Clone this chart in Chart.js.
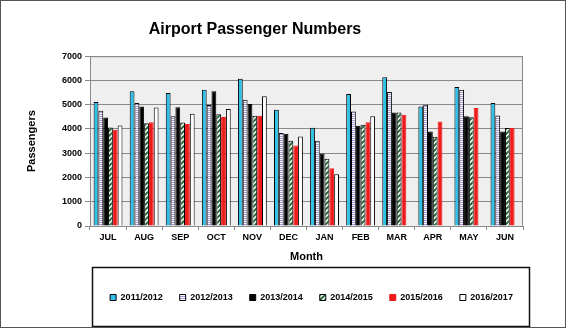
<!DOCTYPE html>
<html>
<head>
<meta charset="utf-8">
<script src="https://cdn.jsdelivr.net/npm/chart.js@4/dist/chart.umd.min.js"></script>
<style>
  html, body { margin: 0; padding: 0; background: #fff; }
  #wrap { width: 566px; height: 328px; position: relative; }
</style>
</head>
<body>
<div id="wrap"><canvas id="chart" width="566" height="328"></canvas></div>
<script>
const months = ['JUL', 'AUG', 'SEP', 'OCT', 'NOV', 'DEC', 'JAN', 'FEB', 'MAR', 'APR', 'MAY', 'JUN'];
const seasons = ['2011/2012', '2012/2013', '2013/2014', '2014/2015', '2015/2016', '2016/2017'];

const s2011 = [5110, 5550, 5480, 5620, 6075, 4790, 4050, 5440, 6130, 4930, 5730, 5070];
const s2012 = [4750, 5070, 4520, 4990, 5200, 3830, 3510, 4720, 5520, 5000, 5620, 4560];
const s2013 = [4475, 4930, 4900, 5550, 5030, 3800, 2990, 4130, 4680, 3900, 4520, 3900];
const s2014 = [4060, 4240, 4270, 4610, 4545, 3510, 2770, 4170, 4680, 3680, 4480, 4035];
const s2015 = [3965, 4280, 4210, 4490, 4540, 3320, 2380, 4280, 4590, 4310, 4860, 4035];
const s2016 = [4145, 4890, 4630, 4820, 5345, 3690, 2130, 4520, null, null, null, null];

const yTicks = [0, 1000, 2000, 3000, 4000, 5000, 6000, 7000];

const FONT = "'Liberation Sans', Arial, sans-serif";

function makePattern(kind) {
  const c = document.createElement('canvas');
  const g = c.getContext('2d');
  if (kind === 'lines') {
    c.width = 4;
    c.height = 2;
    g.fillStyle = '#ffffff';
    g.fillRect(0, 0, 4, 2);
    g.fillStyle = '#a898dc';
    g.fillRect(0, 0, 4, 1);
  } else {
    c.width = 5;
    c.height = 5;
    g.fillStyle = '#ffffff';
    g.fillRect(0, 0, 5, 5);
    g.strokeStyle = '#2b6b3c';
    g.lineWidth = 2;
    g.beginPath();
    g.moveTo(-1, 6); g.lineTo(6, -1);
    g.moveTo(-1, 1); g.lineTo(1, -1);
    g.moveTo(4, 6); g.lineTo(6, 4);
    g.stroke();
  }
  return g.createPattern(c, 'repeat');
}

const frame = {
  id: 'frame',
  afterLayout(chart) {
    // title sits left of centre, legend is centred on its box
    if (chart.titleBlock) {
      chart.titleBlock.left = 0;
      chart.titleBlock.right = 510;
    }
    if (chart.legend) {
      chart.legend.left += 50;
      chart.legend.right += 50;
    }
  },
  beforeDraw(chart) {
    const { ctx, chartArea: a } = chart;
    ctx.save();
    ctx.fillStyle = '#ffffff';
    ctx.fillRect(0, 0, chart.width, chart.height);
    ctx.fillStyle = '#efefef';
    ctx.fillRect(a.left, a.top, a.right - a.left, a.bottom - a.top);
    ctx.restore();
  },
  beforeDatasetsDraw(chart) {
    const { ctx, chartArea: a } = chart;
    ctx.save();
    ctx.strokeStyle = '#8a8a8a';
    ctx.lineWidth = 1;
    ctx.strokeRect(a.left + 0.5, a.top + 0.5, a.right - a.left - 1, a.bottom - a.top);
    ctx.restore();
  },
  afterDraw(chart) {
    const { ctx } = chart;
    ctx.save();
    ctx.strokeStyle = '#111';
    ctx.lineWidth = 1.5;
    ctx.strokeRect(92.5, 267.5, 437, 59);
    ctx.strokeStyle = '#555';
    ctx.lineWidth = 1;
    ctx.strokeRect(0.5, 0.5, chart.width - 1, chart.height - 1);
    ctx.restore();
  }
};

const styles = [
  { backgroundColor: '#2ec2ea', borderColor: '#000' },
  { backgroundColor: makePattern('lines'), borderColor: '#000' },
  { backgroundColor: '#000000', borderColor: '#000' },
  { backgroundColor: makePattern('diag'), borderColor: '#000' },
  { backgroundColor: '#ee1a1a', borderColor: '#ee1a1a' },
  { backgroundColor: '#ffffff', borderColor: '#000' }
];

const series = [s2011, s2012, s2013, s2014, s2015, s2016];

Chart.defaults.font.family = FONT;
Chart.defaults.color = '#000';

new Chart(document.getElementById('chart'), {
  type: 'bar',
  data: {
    labels: months,
    datasets: series.map((values, i) => ({
      label: seasons[i],
      data: values,
      backgroundColor: styles[i].backgroundColor,
      borderColor: styles[i].borderColor,
      borderWidth: 1,
      categoryPercentage: 0.8,
      barPercentage: 1
    }))
  },
  options: {
    responsive: false,
    animation: false,
    events: [],
    layout: { padding: { left: 0, right: 43, top: 0, bottom: 16 } },
    plugins: {
      title: {
        display: true,
        text: 'Airport Passenger Numbers',
        font: { size: 16, weight: 'bold' },
        color: '#000',
        padding: { top: 20, bottom: 17 }
      },
      legend: {
        position: 'bottom',
        labels: {
          boxWidth: 6,
          boxHeight: 6,
          padding: 17,
          font: { size: 9, weight: 'bold' },
          color: '#000'
        }
      },
      tooltip: { enabled: false }
    },
    scales: {
      x: {
        grid: {
          offset: true,
          drawOnChartArea: false,
          drawTicks: true,
          tickLength: 4,
          color: '#8a8a8a'
        },
        border: { display: true, color: '#8a8a8a' },
        ticks: { font: { size: 9, weight: 'bold' }, padding: 2, color: '#000' },
        title: {
          display: true,
          text: 'Month',
          font: { size: 11, weight: 'bold' },
          color: '#000',
          padding: { top: 0, bottom: 12 }
        },
        afterFit(scale) { scale.height = 50; }
      },
      y: {
        min: 0,
        max: 7000,
        afterBuildTicks(scale) { scale.ticks = yTicks.map((v) => ({ value: v })); },
        grid: { color: '#8a8a8a', tickLength: 5 },
        border: { display: true, color: '#8a8a8a' },
        ticks: {
          font: { size: 9, weight: 'bold' },
          padding: 3,
          color: '#000',
          callback: (value) => String(value)
        },
        title: {
          display: true,
          text: 'Passengers',
          font: { size: 11, weight: 'bold' },
          color: '#000',
          padding: { top: 25, bottom: 0 }
        },
        afterFit(scale) { scale.width = 90; }
      }
    }
  },
  plugins: [frame]
});
</script>
</body>
</html>
